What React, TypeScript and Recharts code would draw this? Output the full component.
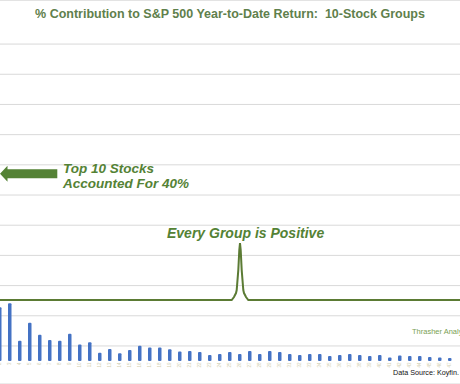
import React from 'react';
import { ComposedChart, Bar, Line, XAxis, YAxis, CartesianGrid, ReferenceLine, LabelList } from 'recharts';

// Group rank (10-stock groups) visible in the crop
const groups = [2,3,4,5,6,7,8,9,10,11,12,13,14,15,16,17,18,19,20,21,22,23,24,25,26,27,28,29,30,31,32,33,34,35,36,37,38,39,40,41,42,43,44,45,46,47];
// % contribution to YTD return per group
const contributions = [4.45,4.78,1.68,3.17,2.18,1.74,1.68,2.26,1.38,1.55,0.69,0.99,0.64,0.91,1.27,1.13,1.13,0.97,0.79,0.83,0.74,0.50,0.58,0.74,0.58,0.83,0.58,0.83,0.74,0.58,0.50,0.58,0.58,0.41,0.50,0.58,0.50,0.41,0.50,0.30,0.45,0.41,0.41,0.33,0.30,0.25];
// "Every group is positive" bracket line
const bracketX = [1.5,25.17,25.4,25.6,25.67,25.83,25.93,26.0,26.07,26.17,26.33,26.4,26.6,26.83,48.5];
const bracketY = [5.05,5.05,5.3,5.63,5.88,7.53,9.19,9.77,9.19,7.53,5.88,5.63,5.3,5.05,5.05];
// horizontal gridline values
const gridValues = [-1.25,1.25,3.75,6.25,8.75,11.25,13.75,16.25,18.75,21.25,23.75,26.25];

const barData = groups.map((g, i) => ({ g, v: contributions[i] }));
const lineData = bracketX.map((x, i) => ({ g: x, b: bracketY[i] }));

const GREEN = '#548235';

const ArrowShape = (p: any) => {
  const x1 = Math.min(p.x1, p.x2);
  const x2 = Math.max(p.x1, p.x2);
  const y = p.y1;
  const head = 7.5;
  const hh = 8;
  const sh = 4.6;
  const d = `M${x1},${y} L${x1 + head},${y - hh} L${x1 + head},${y - sh} L${x2},${y - sh} L${x2},${y + sh} L${x1 + head},${y + sh} L${x1 + head},${y + hh} Z`;
  return <path d={d} fill={GREEN} stroke="none" />;
};

const TickLabel = (p: any) => {
  const { x, y, width, height, value } = p;
  const cx = Number(x) + Number(width) / 2;
  const base = Number(y) + Number(height) + 1.5;
  return (
    <text x={cx} y={base} transform={`rotate(-90 ${cx} ${base})`} textAnchor="end" dominantBaseline="central" fontSize={4.5} fill="#d2cfb2" fontFamily="Arial, Liberation Sans, sans-serif">
      {value}
    </text>
  );
};

export default function App() {
  return (
    <div style={{ position: 'absolute', left: 0, top: 0, width: 460, height: 384, background: '#fff', overflow: 'hidden' }}>
      <ComposedChart width={460} height={384} data={barData} margin={{ top: 0, right: 0, bottom: 0, left: 0 }}>
        <CartesianGrid vertical={false} stroke="#d9d9d9" horizontal={true} />
        <XAxis xAxisId="bars" type="number" dataKey="g" domain={[2, 48]} hide allowDataOverflow />
        <XAxis xAxisId="bracket" type="number" dataKey="g" domain={[2, 48]} hide allowDataOverflow />
        <YAxis type="number" domain={[-1.9, 29.9]} ticks={gridValues} hide allowDataOverflow />
        <ReferenceLine xAxisId="bars" y={29.86} stroke="#e3e3e3" />
        <Bar xAxisId="bars" dataKey="v" fill="#4472c4" barSize={3.5} radius={[1, 1, 1, 1]} isAnimationActive={false}>
          <LabelList dataKey="g" content={<TickLabel />} />
        </Bar>
        <Line xAxisId="bracket" data={lineData} dataKey="b" type="linear" stroke="#5b7b34" strokeWidth={2} dot={false} activeDot={false} isAnimationActive={false} />
        <ReferenceLine xAxisId="bars" segment={[{ x: 2.0, y: 15.51 }, { x: 7.73, y: 15.51 }]} shape={<ArrowShape />} />
        <text x={230} y={18} textAnchor="middle" fontFamily="Arial, Liberation Sans, sans-serif" fontWeight="bold" fontSize={12.5} fill="#5f804c">
          % Contribution to S&amp;P 500 Year-to-Date Return:{'\u00a0\u00a0'}10-Stock Groups
        </text>
        <text x={63} y={172.7} fontFamily="Arial, Liberation Sans, sans-serif" fontWeight="bold" fontStyle="italic" fontSize={13.5} fill={GREEN}>
          Top 10 Stocks
        </text>
        <text x={63} y={188.3} fontFamily="Arial, Liberation Sans, sans-serif" fontWeight="bold" fontStyle="italic" fontSize={13.5} fill={GREEN}>
          Accounted For 40%
        </text>
        <text x={167} y={238.3} fontFamily="Arial, Liberation Sans, sans-serif" fontWeight="bold" fontStyle="italic" fontSize={14} fill={GREEN}>
          Every Group is Positive
        </text>
        <text x={412} y={333.5} fontFamily="Arial, Liberation Sans, sans-serif" fontSize={7.5} fill="#7aa154">
          Thrasher Analytics
        </text>
        <text x={393} y={374.5} fontFamily="Arial, Liberation Sans, sans-serif" fontSize={7.2} fill="#111">
          Data Source: Koyfin.
        </text>
      </ComposedChart>
    </div>
  );
}
